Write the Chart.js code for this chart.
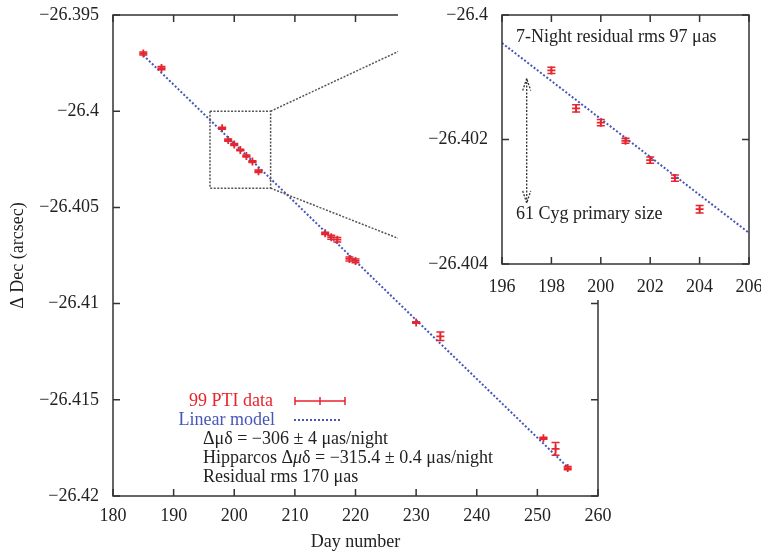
<!DOCTYPE html>
<html>
<head>
<meta charset="utf-8">
<script src="https://cdn.jsdelivr.net/npm/chart.js@4.4.0/dist/chart.umd.min.js"></script>
<style>
  body { margin: 0; background: #fff; overflow: hidden; }
  #wrap { position: relative; width: 761px; height: 557px; overflow: hidden; }
  #main { position: absolute; left: 0; top: 0; }
  #inset { position: absolute; left: 398px; top: 0; background: #fff; }
</style>
</head>
<body>
<div id="wrap">
  <canvas id="main" width="761" height="557"></canvas>
  <canvas id="inset" width="363" height="300"></canvas>
</div>
<script>
// PTI nights (day number, delta Dec in arcsec, 1-sigma error)
const days   = [185, 188, 198, 199, 200, 201, 202, 203, 204, 215, 216, 217, 219, 220, 230, 234, 251, 253, 255];
const dec    = [-26.39700, -26.39776, -26.40089, -26.40150, -26.40173, -26.40202, -26.40233, -26.40262, -26.40312,
                -26.40635, -26.40655, -26.40668, -26.40768, -26.40778, -26.41098, -26.41170, -26.41700, -26.41755, -26.41855];
const decErr = [0.00008, 0.00008, 0.00005, 0.00006, 0.00005, 0.00004, 0.00005, 0.00005, 0.00006,
                0.00006, 0.00010, 0.00012, 0.00010, 0.00010, 0.00004, 0.00022, 0.00005, 0.00033, 0.00008];

// the 7 consecutive nights shown in the inset
const nightDays = [198, 199, 200, 201, 202, 203, 204];
const nightDec  = [-26.40089, -26.40150, -26.40173, -26.40202, -26.40233, -26.40262, -26.40312];
const nightErr  = [0.00005, 0.00006, 0.00005, 0.00004, 0.00005, 0.00005, 0.00006];

// linear model
const modelDays = [185, 255];
const modelDec  = [-26.39709, -26.41850];
const insetModelDays = [196, 206];
const insetModelDec  = [-26.40045, -26.40350];

// zoom box and the lines leading to the inset
const boxDays = [196, 206, 206, 196, 196];
const boxDec  = [-26.4, -26.4, -26.404, -26.404, -26.4];
const upperLinkDays = [206, 227.3];
const upperLinkDec  = [-26.4, -26.39686];
const lowerLinkDays = [206, 227.3];
const lowerLinkDec  = [-26.404, -26.40664];

// 61 Cyg primary size arrow
const sizeArrowDay = 197;
const sizeArrowDec = [-26.40102, -26.40302];

const xTicks = [180, 190, 200, 210, 220, 230, 240, 250, 260];
const yTicks = [-26.42, -26.415, -26.41, -26.405, -26.4, -26.395];
const insetXTicks = [196, 198, 200, 202, 204, 206];
const insetYTicks = [-26.404, -26.402, -26.4];

const RED = '#e8242c';
const BLUE = '#4656b8';
const FONT = '"Liberation Serif", "DejaVu Serif", serif';

const pts = (xs, ys) => xs.map((x, i) => ({ x: x, y: ys[i] }));
const fmt = v => (v < 0 ? '\u2212' : '') + String(Math.abs(+(+v).toFixed(3)));

const errorBars = {
  id: 'errorBars',
  afterDatasetsDraw(chart) {
    const ctx = chart.ctx, xs = chart.scales.x, ys = chart.scales.y, a = chart.chartArea;
    ctx.save();
    ctx.beginPath();
    ctx.rect(a.left, a.top, a.right - a.left, a.bottom - a.top);
    ctx.clip();
    chart.data.datasets.forEach(ds => {
      if (!ds.errors) return;
      ctx.strokeStyle = ds.borderColor;
      ctx.lineWidth = 1.5;
      ds.data.forEach((p, i) => {
        const px = xs.getPixelForValue(p.x);
        const y1 = ys.getPixelForValue(p.y - ds.errors[i]);
        const y2 = ys.getPixelForValue(p.y + ds.errors[i]);
        ctx.beginPath();
        ctx.moveTo(px, y1); ctx.lineTo(px, y2);
        ctx.moveTo(px - 4, y1); ctx.lineTo(px + 4, y1);
        ctx.moveTo(px - 4, y2); ctx.lineTo(px + 4, y2);
        ctx.stroke();
      });
    });
    ctx.restore();
  }
};

const frame = {
  id: 'frame',
  afterDraw(chart) {
    const ctx = chart.ctx, a = chart.chartArea, xs = chart.scales.x, ys = chart.scales.y;
    const len = 7;
    ctx.save();
    ctx.strokeStyle = '#333';
    ctx.lineWidth = 1.5;
    ctx.strokeRect(a.left, a.top, a.right - a.left, a.bottom - a.top);
    ctx.beginPath();
    xs.ticks.forEach(t => {
      const px = xs.getPixelForValue(t.value);
      ctx.moveTo(px, a.bottom); ctx.lineTo(px, a.bottom - len);
      ctx.moveTo(px, a.top); ctx.lineTo(px, a.top + len);
    });
    ys.ticks.forEach(t => {
      const py = ys.getPixelForValue(t.value);
      ctx.moveTo(a.left, py); ctx.lineTo(a.left + len, py);
      ctx.moveTo(a.right, py); ctx.lineTo(a.right - len, py);
    });
    ctx.stroke();
    ctx.restore();
  }
};

const mainNotes = {
  id: 'mainNotes',
  afterDraw(chart) {
    const ctx = chart.ctx;
    ctx.save();
    ctx.font = '18px ' + FONT;
    ctx.textBaseline = 'middle';
    // key
    ctx.textAlign = 'right';
    ctx.fillStyle = RED;
    ctx.fillText('99 PTI data', 273, 401);
    ctx.fillStyle = BLUE;
    ctx.fillText('Linear model', 275, 420);
    ctx.strokeStyle = RED;
    ctx.lineWidth = 1.5;
    ctx.beginPath();
    ctx.moveTo(295, 401); ctx.lineTo(345, 401);
    [295, 320, 345].forEach(x => { ctx.moveTo(x, 397); ctx.lineTo(x, 405); });
    ctx.stroke();
    ctx.strokeStyle = BLUE;
    ctx.lineWidth = 2;
    ctx.setLineDash([2, 2]);
    ctx.beginPath();
    ctx.moveTo(294, 420); ctx.lineTo(342, 420);
    ctx.stroke();
    ctx.setLineDash([]);
    // fit results
    ctx.textAlign = 'left';
    ctx.fillStyle = '#222';
    ctx.fillText('\u0394\u03bc\u03b4 = \u2212306 \u00b1 4 \u03bcas/night', 203, 439);
    let x = 203;
    const seg = (s, italic) => {
      ctx.font = (italic ? 'italic ' : '') + '18px ' + FONT;
      ctx.fillText(s, x, 458);
      x += ctx.measureText(s).width;
    };
    seg('Hipparcos \u0394', false);
    seg('\u03bc', true);
    seg('\u03b4 = \u2212315.4 \u00b1 0.4 \u03bcas/night', false);
    ctx.font = '18px ' + FONT;
    ctx.fillText('Residual rms 170 \u03bcas', 203, 477);
    ctx.restore();
  }
};

const insetNotes = {
  id: 'insetNotes',
  afterDraw(chart) {
    const ctx = chart.ctx, xs = chart.scales.x, ys = chart.scales.y, a = chart.chartArea;
    ctx.save();
    ctx.font = '18px ' + FONT;
    ctx.textBaseline = 'middle';
    ctx.fillStyle = '#222';
    ctx.fillText('7-Night residual rms 97 \u03bcas', a.left + 14, 37);
    ctx.fillText('61 Cyg primary size', a.left + 14, 214);
    // double-headed arrow
    const ax = xs.getPixelForValue(sizeArrowDay);
    const y1 = ys.getPixelForValue(sizeArrowDec[0]);
    const y2 = ys.getPixelForValue(sizeArrowDec[1]);
    ctx.strokeStyle = '#333';
    ctx.lineWidth = 1.3;
    ctx.setLineDash([2, 1.5]);
    ctx.beginPath();
    ctx.moveTo(ax, y1); ctx.lineTo(ax, y2);
    ctx.moveTo(ax - 4, y1 + 12); ctx.lineTo(ax, y1); ctx.lineTo(ax + 4, y1 + 12);
    ctx.moveTo(ax - 4, y2 - 12); ctx.lineTo(ax, y2); ctx.lineTo(ax + 4, y2 - 12);
    ctx.stroke();
    ctx.restore();
  }
};

function axes(xMin, xMax, yMin, yMax, xt, yt, yWidth, xHeight, xPad, withTitles) {
  const tickFont = { family: FONT, size: 18 };
  return {
    x: {
      type: 'linear', min: xMin, max: xMax,
      grid: { display: false }, border: { display: false },
      afterBuildTicks: s => { s.ticks = xt.map(v => ({ value: v })); },
      afterFit: s => { s.height = xHeight; s.paddingLeft = 0; s.paddingRight = 0; },
      ticks: { font: tickFont, color: '#222', padding: xPad, maxRotation: 0, callback: v => String(v) },
      title: { display: withTitles, text: 'Day number', font: { family: FONT, size: 18 }, color: '#222' }
    },
    y: {
      type: 'linear', min: yMin, max: yMax,
      grid: { display: false }, border: { display: false },
      afterBuildTicks: s => { s.ticks = yt.map(v => ({ value: v })); },
      afterFit: s => { s.width = yWidth; s.paddingTop = 0; s.paddingBottom = 0; },
      ticks: { font: tickFont, color: '#222', padding: 6, callback: v => fmt(v) },
      title: { display: withTitles, text: '\u0394 Dec (arcsec)', padding: { top: 7, bottom: 4 },
               font: { family: FONT, size: 18 }, color: '#222' }
    }
  };
}

new Chart(document.getElementById('main'), {
  type: 'scatter',
  data: {
    datasets: [
      { data: pts(boxDays, boxDec), showLine: true, borderColor: '#555', borderWidth: 1.5, borderDash: [2, 1.5], pointRadius: 0 },
      { data: pts(upperLinkDays, upperLinkDec), showLine: true, borderColor: '#555', borderWidth: 1.5, borderDash: [2, 1.5], pointRadius: 0 },
      { data: pts(lowerLinkDays, lowerLinkDec), showLine: true, borderColor: '#555', borderWidth: 1.5, borderDash: [2, 1.5], pointRadius: 0 },
      { data: pts(modelDays, modelDec), showLine: true, borderColor: BLUE, borderWidth: 2, borderDash: [2, 2], pointRadius: 0 },
      { data: pts(days, dec), errors: decErr, borderColor: RED, backgroundColor: RED,
        pointStyle: 'cross', pointRadius: 4, pointBorderWidth: 1.8 }
    ]
  },
  options: {
    responsive: false, animation: false,
    layout: { padding: { top: 15, right: 163, left: 0, bottom: 0 } },
    plugins: { legend: { display: false }, tooltip: { enabled: false } },
    scales: axes(180, 260, -26.42, -26.395, xTicks, yTicks, 113, 61, 1, true)
  },
  plugins: [errorBars, frame, mainNotes]
});

new Chart(document.getElementById('inset'), {
  type: 'scatter',
  data: {
    datasets: [
      { data: pts(insetModelDays, insetModelDec), showLine: true, borderColor: BLUE, borderWidth: 2, borderDash: [2, 2], pointRadius: 0 },
      { data: pts(nightDays, nightDec), errors: nightErr, borderColor: RED, backgroundColor: RED,
        pointStyle: 'cross', pointRadius: 4, pointBorderWidth: 1.8 }
    ]
  },
  options: {
    responsive: false, animation: false,
    layout: { padding: { top: 15, right: 12, left: 0, bottom: 0 } },
    plugins: { legend: { display: false }, tooltip: { enabled: false } },
    scales: axes(196, 206, -26.404, -26.4, insetXTicks, insetYTicks, 104, 36, 4, false)
  },
  plugins: [errorBars, frame, insetNotes]
});
</script>
</body>
</html>
